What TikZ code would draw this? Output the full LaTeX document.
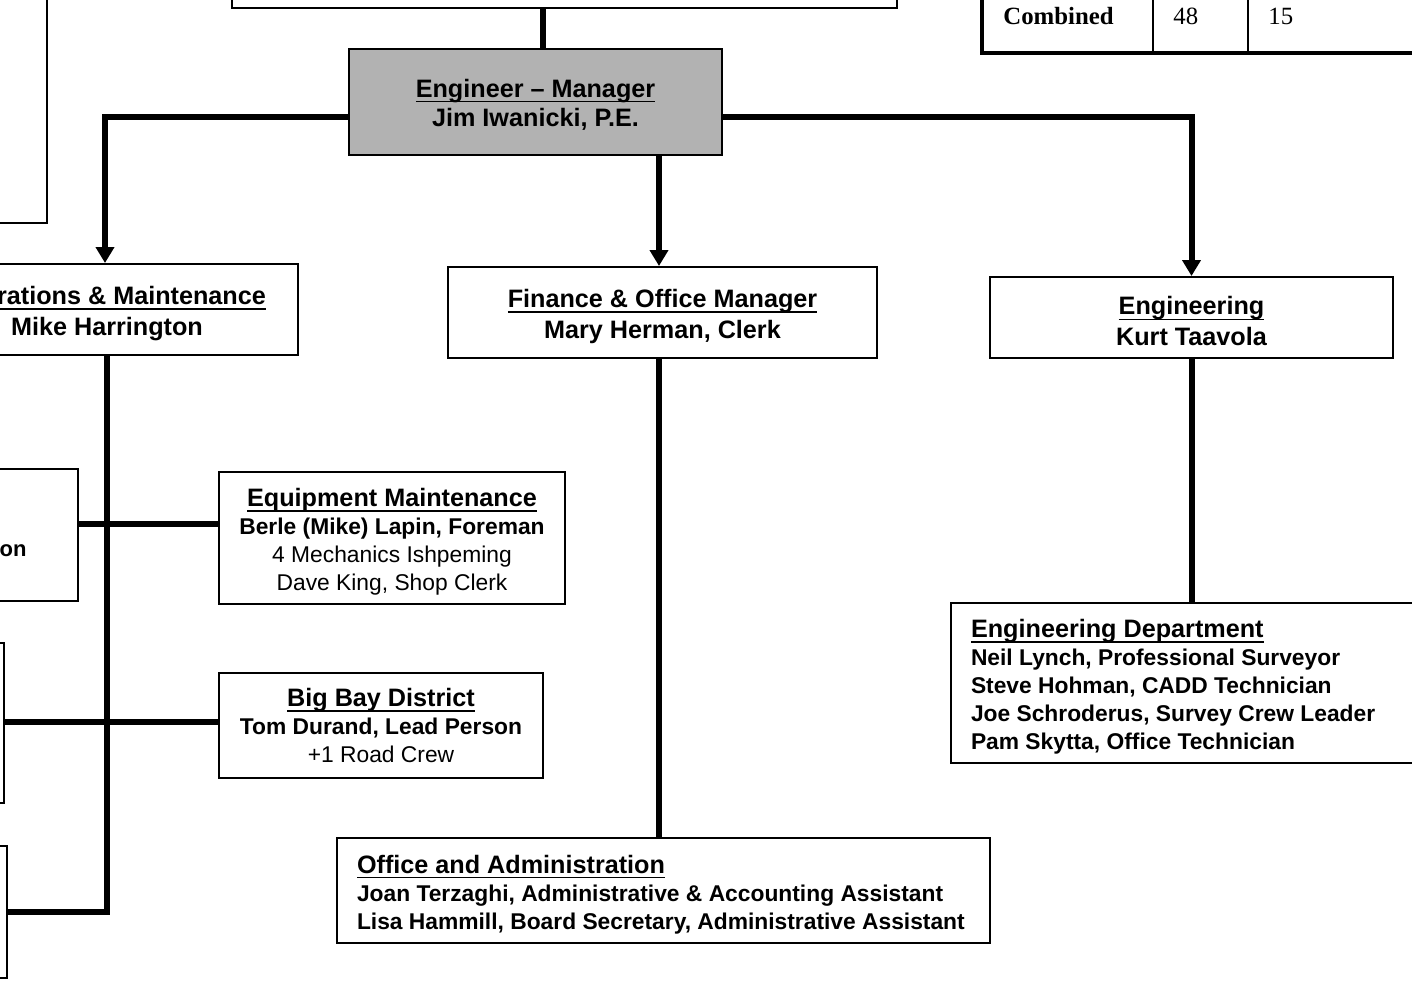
\documentclass[tikz,border=0pt]{standalone}
\usepackage{fontspec}
\setmainfont{Liberation Sans}
\newfontfamily\timesfont{Liberation Serif}
\usetikzlibrary{positioning,arrows.meta}

\newsavebox\ulbox
\newcommand\uln[1]{\sbox\ulbox{#1}\rlap{\rule[-2.6pt]{\wd\ulbox}{0.7pt}}\usebox\ulbox}
\newcommand\hd[1]{{\bfseries\fontsize{12.6}{14}\selectfont\uln{#1}}}
\newcommand\st[1][13pt]{\rule{0pt}{#1}}

\tikzset{
  box/.style={draw,line width=1pt,inner sep=0pt,align=center},
  big/.style={font=\bfseries\fontsize{12.6}{15.5}\selectfont},
  small/.style={font=\fontsize{11.4}{14}\selectfont},
  list/.style={font=\bfseries\fontsize{11.4}{14}\selectfont,align=flush left,inner xsep=10pt},
  conn/.style={line width=3pt},
  arr/.style={conn,-{Triangle[width=9pt,length=8pt]}},
  cell/.style={anchor=base west,inner sep=0pt,font=\timesfont\fontsize{12.4}{14}\selectfont}
}

\begin{document}
\begin{tikzpicture}[x=0.5pt,y=-0.5pt]
  \useasboundingbox (0,0) rectangle (1412,981);
  \clip (0,0) rectangle (1412,981);

  % boxes cut by the frame
  \node[box,minimum width=332.5pt,minimum height=19pt] (top) at (564.5,-11) {};
  \node[box,minimum width=33.5pt,minimum height=121.5pt] (tl) at (13.5,101.5) {};
  \node[box,minimum width=69pt,minimum height=66pt] (boxA) at (9,535) {};
  \node[anchor=east,inner sep=0pt,font=\bfseries\fontsize{11}{13}\selectfont] (boxAtxt) at (27,551) {on};
  \node[box,minimum width=32pt,minimum height=80pt] (boxB) at (-28,723) {};
  \node[box,minimum width=33.5pt,minimum height=66pt] (boxC) at (-26.5,912) {};

  % table
  \draw[line width=2pt] (982,-10) -- (982,53) -- (1420,53);
  \draw[line width=1pt] (1153,-10) -- (1153,52) (1248,-10) -- (1248,52);
  \node[cell,font=\timesfont\bfseries\fontsize{12.4}{14}\selectfont] (comb) at (1003,24) {Combined};
  \node[cell] (n48) at (1173,24) {48};
  \node[cell] (n15) at (1268,24) {15};

  % main boxes
  \node[box,big,font=\bfseries\fontsize{12.6}{14.5}\selectfont,fill=black!30,
        minimum width=186.5pt,minimum height=53pt] (mgr) at (535.5,102)
    {\st[11.5pt]\uln{Engineer – Manager}\\Jim Iwanicki, P.E.};
  \node[box,big,minimum width=191pt,minimum height=45.5pt] (ops) at (107,309.5)
    {\st\uln{\phantom{Ope}rations \& Maintenance}\\Mike Harrington};
  \node[box,big,minimum width=214.5pt,minimum height=45.5pt] (fin) at (662.5,312.5)
    {\st\uln{Finance \& Office Manager}\\Mary Herman, Clerk};
  \node[box,big,minimum width=201.5pt,minimum height=40.5pt] (eng) at (1191.5,317.5)
    {\st\uln{Engineering}\\Kurt Taavola};

  \node[box,small,minimum width=173pt,minimum height=66pt] (equip) at (392,538)
    {\st\hd{Equipment Maintenance}\\\textbf{Berle (Mike) Lapin, Foreman}\\4 Mechanics Ishpeming\\Dave King, Shop Clerk};
  \node[box,small,minimum width=162pt,minimum height=52.5pt] (bay) at (381,725.5)
    {\hd{Big Bay District}\\\textbf{Tom Durand, Lead Person}\\+1 Road Crew};
  \node[box,list,text width=306.5pt,minimum height=52.5pt] (office) at (663.5,890.5)
    {\st\hd{Office and Administration}\\Joan Terzaghi, Administrative \& Accounting Assistant\\Lisa Hammill, Board Secretary, Administrative Assistant};
  \node[box,list,text width=224.5pt,minimum height=80pt] (engdept) at (1195.5,683)
    {\st\hd{Engineering Department}\\Neil Lynch, Professional Surveyor\\Steve Hohman, CADD Technician\\Joe Schroderus, Survey Crew Leader\\Pam Skytta, Office Technician};

  % connectors
  \coordinate (topx) at (543,0);
  \coordinate (bend) at (105,117);
  \coordinate (finx) at (659,0);
  \coordinate (rowA) at (0,524);
  \coordinate (rowB) at (0,722);
  \draw[conn] (top.south -| topx) -- (mgr.north -| topx);
  \draw[arr] (mgr.west |- bend) -| (ops.north -| bend);
  \draw[arr] (mgr.south -| finx) -- (fin.north -| finx);
  \draw[arr] (mgr.east |- bend) -| (eng.north);
  \draw[conn] (fin.south -| finx) -- (office.north -| finx);
  \draw[conn] (eng.south) -- (engdept.north -| eng.south);
  \draw[conn] (ops.south) |- (boxC.east);
  \draw[conn] (boxA.east |- rowA) -- (equip.west |- rowA);
  \draw[conn] (boxB.east |- rowB) -- (bay.west |- rowB);
\end{tikzpicture}
\end{document}
